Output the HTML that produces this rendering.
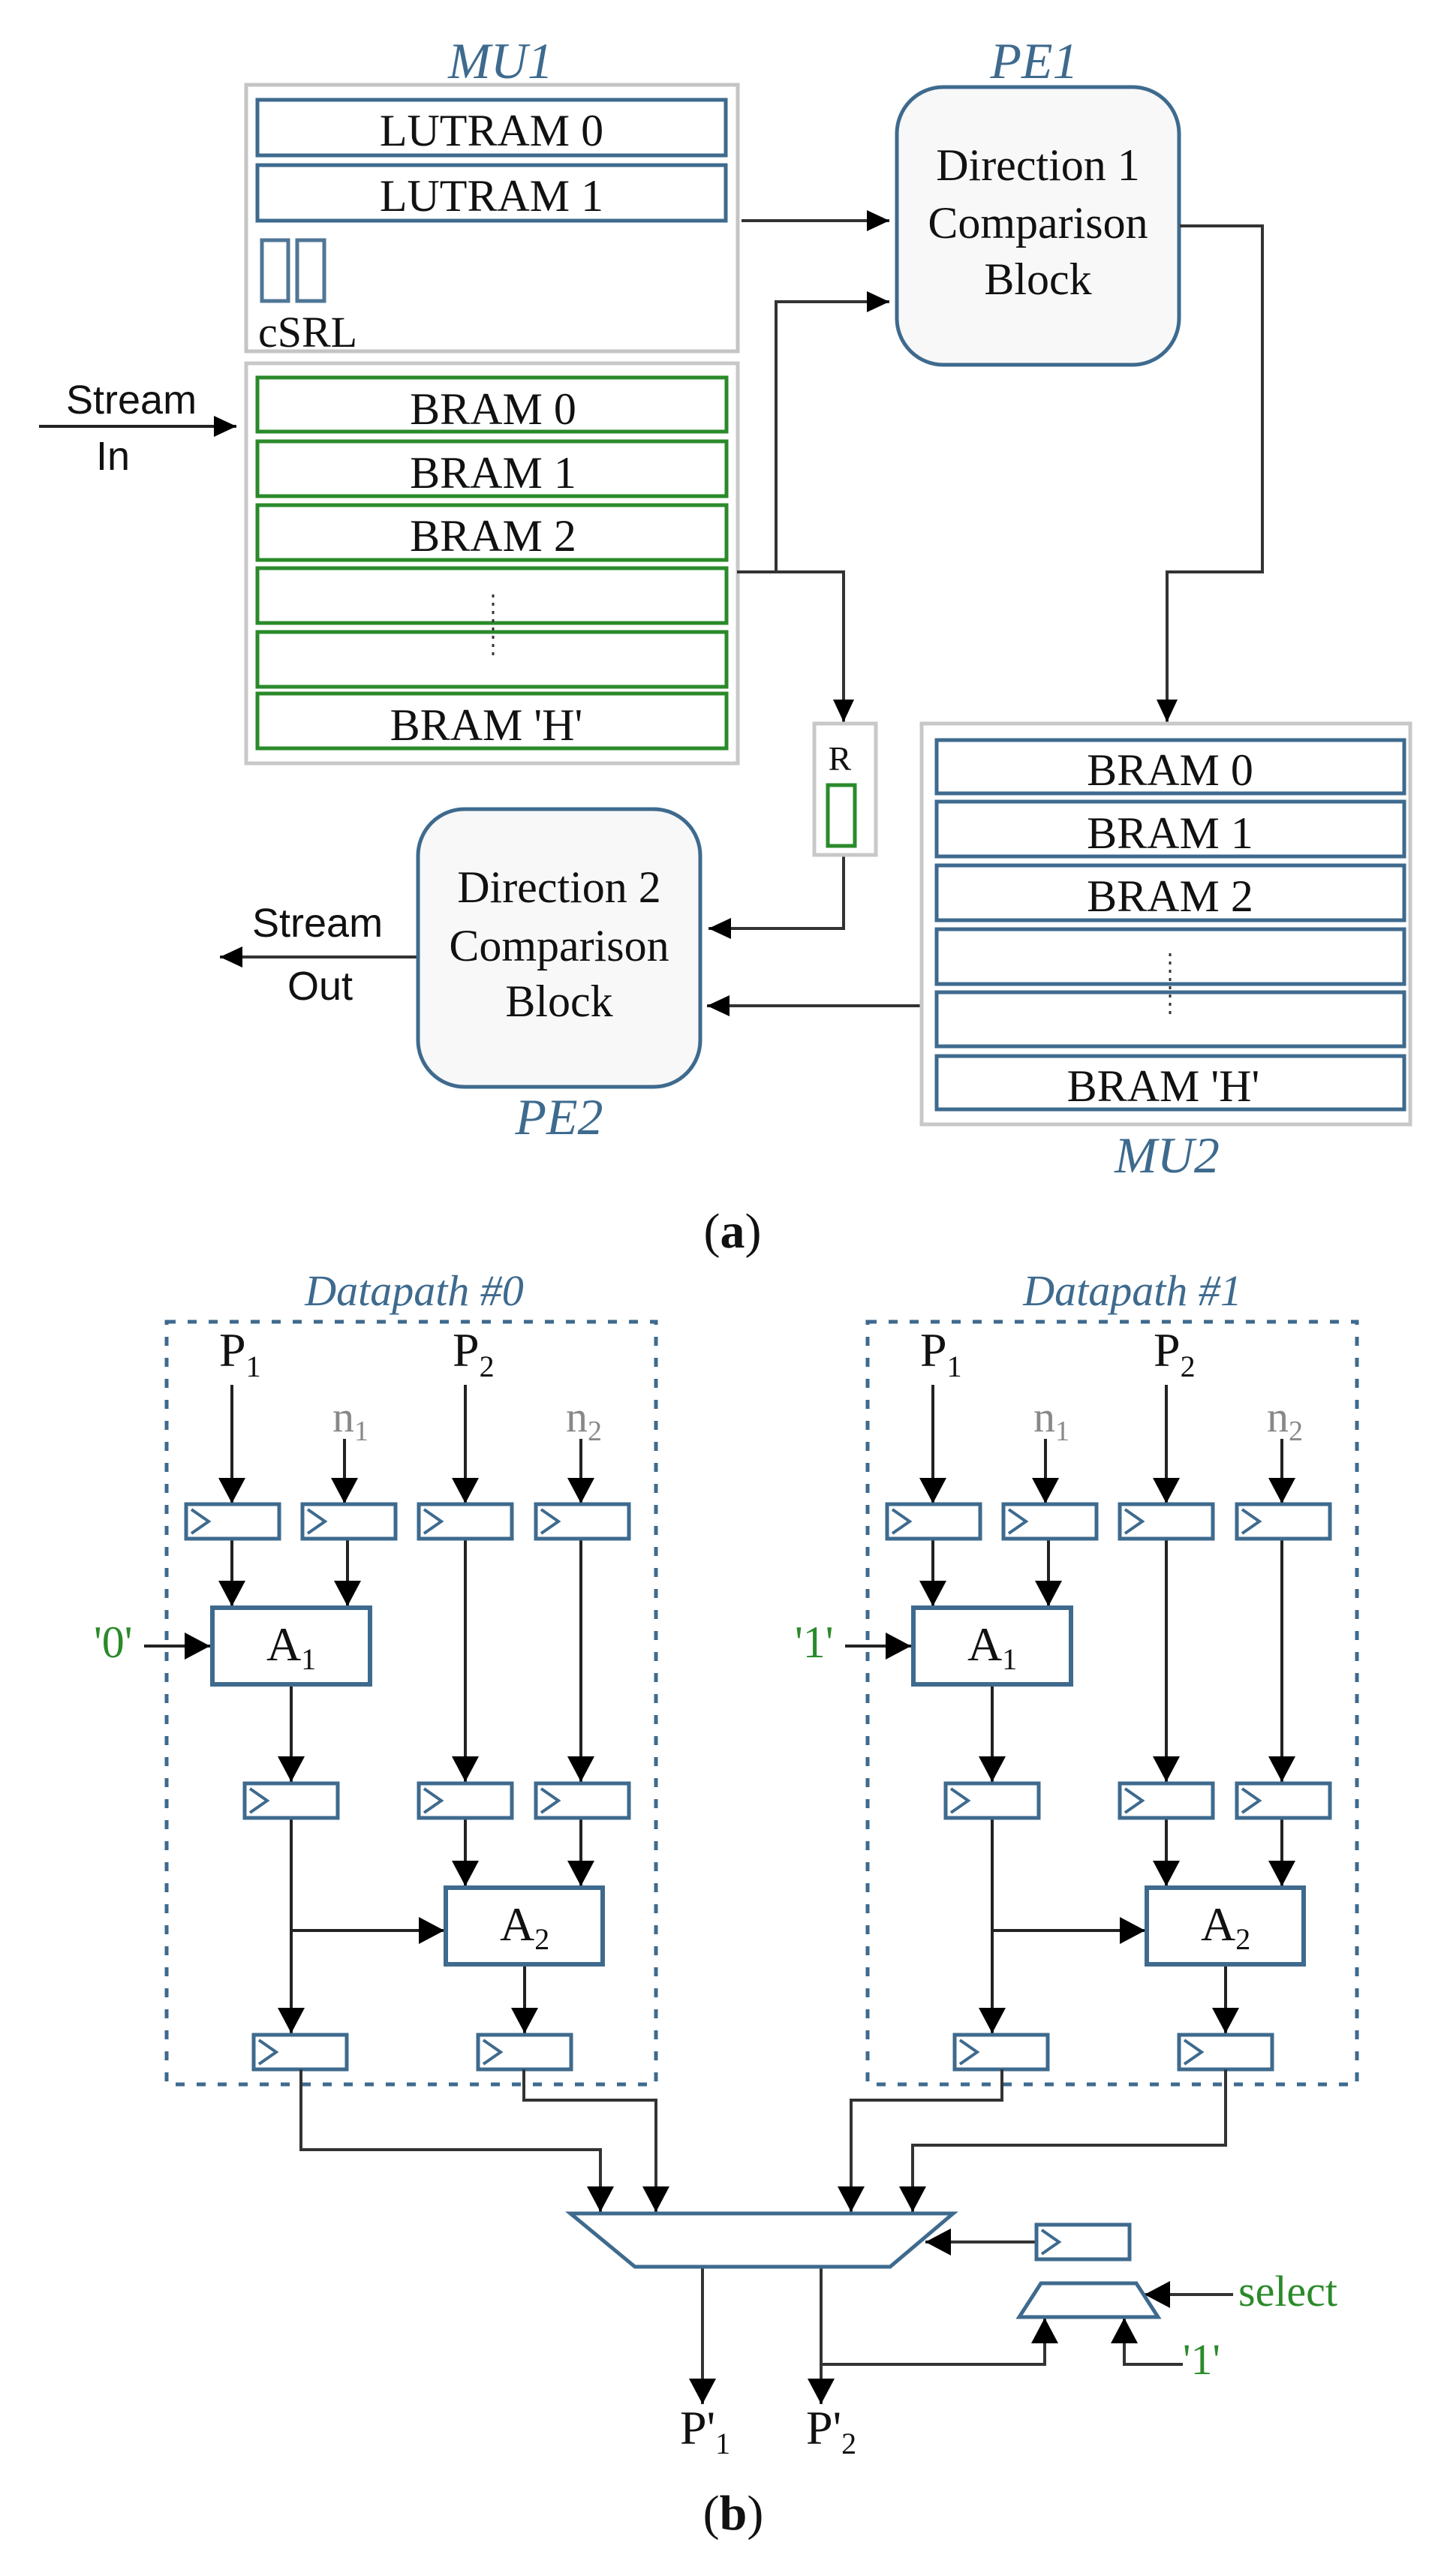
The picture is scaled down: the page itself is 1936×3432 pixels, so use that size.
<!DOCTYPE html>
<html><head><meta charset="utf-8"><style>
html,body{margin:0;padding:0;background:#fff}
svg{display:block}
.s{font-family:"Liberation Serif",serif;fill:#111}
.ss{font-family:"Liberation Sans",sans-serif;fill:#111}
.t{font-family:"Liberation Serif",serif;font-style:italic;fill:#3e6a8e}
.g{font-family:"Liberation Serif",serif;fill:#2a8a2a}
</style></head><body>
<svg width="1936" height="3432" viewBox="0 0 1936 3432" xmlns="http://www.w3.org/2000/svg">
<defs>
<marker id="ah" markerUnits="userSpaceOnUse" markerWidth="34" markerHeight="36" refX="34" refY="18" orient="auto"><path d="M0,0 L34,18 L0,36z" fill="#000"/></marker>
<marker id="as" markerUnits="userSpaceOnUse" markerWidth="30" markerHeight="28" refX="30" refY="14" orient="auto"><path d="M0,0 L30,14 L0,28z" fill="#000"/></marker>
<g id="reg"><rect x="0" y="0" width="124" height="46" fill="#fff" stroke="#3e6a8e" stroke-width="5"/><polyline points="7,7 30,23 7,39" fill="none" stroke="#3e6a8e" stroke-width="4"/></g>
</defs>

<!-- ===== (a) ===== -->
<text class="t" x="667" y="104" font-size="68" text-anchor="middle">MU1</text>
<rect x="328" y="113" width="655" height="355" fill="#fff" stroke="#c4c4c4" stroke-width="5"/>
<rect x="343" y="133" width="624" height="74" fill="#fff" stroke="#3e6a8e" stroke-width="5"/>
<text class="s" x="655" y="194" font-size="60" text-anchor="middle">LUTRAM 0</text>
<rect x="343" y="220" width="624" height="74" fill="#fff" stroke="#3e6a8e" stroke-width="5"/>
<text class="s" x="655" y="281" font-size="60" text-anchor="middle">LUTRAM 1</text>
<rect x="349" y="320" width="35" height="81" fill="#fff" stroke="#4f7696" stroke-width="5"/>
<rect x="396" y="320" width="36" height="81" fill="#fff" stroke="#4f7696" stroke-width="5"/>
<text class="s" x="344" y="462" font-size="58">cSRL</text>

<rect x="328" y="484" width="655" height="533" fill="#fff" stroke="#c8c8c8" stroke-width="5"/>
<g fill="#fff" stroke="#2a8a2a" stroke-width="5">
<rect x="343" y="503" width="625" height="72"/>
<rect x="343" y="588" width="625" height="73"/>
<rect x="343" y="673" width="625" height="73"/>
<rect x="343" y="757" width="625" height="73"/>
<rect x="343" y="842" width="625" height="73"/>
<rect x="343" y="924" width="625" height="73"/>
</g>
<text class="s" x="657" y="565" font-size="60" text-anchor="middle">BRAM 0</text>
<text class="s" x="657" y="650" font-size="60" text-anchor="middle">BRAM 1</text>
<text class="s" x="657" y="734" font-size="60" text-anchor="middle">BRAM 2</text>
<text class="s" x="648" y="986" font-size="60" text-anchor="middle">BRAM 'H'</text>
<line x1="657" y1="792" x2="657" y2="880" stroke="#333" stroke-width="3" stroke-dasharray="4,7"/>

<text class="ss" x="88" y="551" font-size="54">Stream</text>
<text class="ss" x="128" y="626" font-size="54">In</text>
<line x1="52" y1="568" x2="315" y2="568" stroke="#222" stroke-width="4" marker-end="url(#as)"/>

<!-- PE1 -->
<text class="t" x="1378" y="104" font-size="68" text-anchor="middle">PE1</text>
<rect x="1195" y="116" width="376" height="370" rx="62" fill="#f8f8f8" stroke="#3e6a8e" stroke-width="5"/>
<text class="s" x="1383" y="240" font-size="60" text-anchor="middle">Direction 1</text>
<text class="s" x="1383" y="317" font-size="60" text-anchor="middle">Comparison</text>
<text class="s" x="1383" y="392" font-size="60" text-anchor="middle">Block</text>

<g fill="none" stroke="#333" stroke-width="4">
<line x1="988" y1="294" x2="1185" y2="294" marker-end="url(#as)"/>
<polyline points="982,762 1034,762 1034,402 1185,402" marker-end="url(#as)"/>
<polyline points="1034,762 1124,762 1124,962" marker-end="url(#as)"/>
<polyline points="1572,301 1682,301 1682,762 1555,762 1555,962" marker-end="url(#as)"/>
<polyline points="1124,1139 1124,1237 944,1237" marker-end="url(#as)"/>
<line x1="1226" y1="1340" x2="942" y2="1340" marker-end="url(#as)"/>
<line x1="556" y1="1275" x2="293" y2="1275" marker-end="url(#as)"/>
</g>

<!-- R -->
<rect x="1085" y="964" width="82" height="175" fill="#fff" stroke="#c8c8c8" stroke-width="5"/>
<text class="s" x="1119" y="1026" font-size="46" text-anchor="middle">R</text>
<rect x="1103" y="1046" width="36" height="81" fill="#fff" stroke="#2a8a2a" stroke-width="5"/>

<!-- MU2 -->
<rect x="1228" y="964" width="651" height="534" fill="#fff" stroke="#c8c8c8" stroke-width="5"/>
<g fill="#fff" stroke="#3e6a8e" stroke-width="5">
<rect x="1248" y="986" width="623" height="71"/>
<rect x="1248" y="1068" width="623" height="73"/>
<rect x="1248" y="1153" width="623" height="73"/>
<rect x="1248" y="1238" width="623" height="73"/>
<rect x="1248" y="1322" width="623" height="72"/>
<rect x="1248" y="1407" width="623" height="71"/>
</g>
<text class="s" x="1559" y="1046" font-size="60" text-anchor="middle">BRAM 0</text>
<text class="s" x="1559" y="1130" font-size="60" text-anchor="middle">BRAM 1</text>
<text class="s" x="1559" y="1214" font-size="60" text-anchor="middle">BRAM 2</text>
<text class="s" x="1550" y="1467" font-size="60" text-anchor="middle">BRAM 'H'</text>
<line x1="1559" y1="1270" x2="1559" y2="1356" stroke="#333" stroke-width="3" stroke-dasharray="4,7"/>
<text class="t" x="1555" y="1562" font-size="68" text-anchor="middle">MU2</text>

<!-- PE2 -->
<rect x="557" y="1078" width="376" height="370" rx="62" fill="#f8f8f8" stroke="#3e6a8e" stroke-width="5"/>
<text class="s" x="745" y="1202" font-size="60" text-anchor="middle">Direction 2</text>
<text class="s" x="745" y="1280" font-size="60" text-anchor="middle">Comparison</text>
<text class="s" x="745" y="1354" font-size="60" text-anchor="middle">Block</text>
<text class="t" x="745" y="1511" font-size="68" text-anchor="middle">PE2</text>
<text class="ss" x="336" y="1248" font-size="54">Stream</text>
<text class="ss" x="383" y="1332" font-size="54">Out</text>

<text class="s" x="976" y="1662" font-size="66" text-anchor="middle">(<tspan font-weight="bold">a</tspan>)</text>

<!-- ===== (b) ===== -->
<g id="dp">
<rect x="222" y="1761" width="652" height="1016" fill="none" stroke="#3e6a8e" stroke-width="5" stroke-dasharray="12,16"/>
<text class="s" x="292" y="1820" font-size="64">P<tspan font-size="40" dy="14">1</tspan></text>
<text class="s" x="603" y="1820" font-size="64">P<tspan font-size="40" dy="14">2</tspan></text>
<text class="s" x="443" y="1907" font-size="58" fill="#888" style="fill:#888">n<tspan font-size="38" dy="12">1</tspan></text>
<text class="s" x="754" y="1907" font-size="58" style="fill:#888">n<tspan font-size="38" dy="12">2</tspan></text>
<g fill="none" stroke="#222" stroke-width="4">
<line x1="309" y1="1845" x2="309" y2="2003" marker-end="url(#ah)"/>
<line x1="459" y1="1917" x2="459" y2="2003" marker-end="url(#ah)"/>
<line x1="620" y1="1845" x2="620" y2="2003" marker-end="url(#ah)"/>
<line x1="774" y1="1917" x2="774" y2="2003" marker-end="url(#ah)"/>
<line x1="309" y1="2050" x2="309" y2="2140" marker-end="url(#ah)"/>
<line x1="463" y1="2050" x2="463" y2="2140" marker-end="url(#ah)"/>
<line x1="620" y1="2050" x2="620" y2="2374" marker-end="url(#ah)"/>
<line x1="774" y1="2050" x2="774" y2="2374" marker-end="url(#ah)"/>
<line x1="388" y1="2244" x2="388" y2="2374" marker-end="url(#ah)"/>
<line x1="620" y1="2423" x2="620" y2="2513" marker-end="url(#ah)"/>
<line x1="774" y1="2423" x2="774" y2="2513" marker-end="url(#ah)"/>
<line x1="388" y1="2423" x2="388" y2="2709" marker-end="url(#ah)"/>
<line x1="388" y1="2572" x2="592" y2="2572" marker-end="url(#ah)"/>
<line x1="699" y1="2617" x2="699" y2="2709" marker-end="url(#ah)"/>
<line x1="192" y1="2193" x2="280" y2="2193" marker-end="url(#ah)"/>
</g>
<use href="#reg" x="248" y="2004"/>
<use href="#reg" x="403" y="2004"/>
<use href="#reg" x="558" y="2004"/>
<use href="#reg" x="714" y="2004"/>
<use href="#reg" x="326" y="2376"/>
<use href="#reg" x="558" y="2376"/>
<use href="#reg" x="714" y="2376"/>
<use href="#reg" x="338" y="2711"/>
<use href="#reg" x="637" y="2711"/>
<rect x="283" y="2142" width="210" height="102" fill="#fff" stroke="#3e6a8e" stroke-width="6"/>
<text class="s" x="355" y="2212" font-size="64">A<tspan font-size="40" dy="12">1</tspan></text>
<rect x="594" y="2515" width="209" height="102" fill="#fff" stroke="#3e6a8e" stroke-width="6"/>
<text class="s" x="666" y="2585" font-size="64">A<tspan font-size="40" dy="12">2</tspan></text>
</g>
<text class="t" x="552" y="1739" font-size="58" text-anchor="middle">Datapath #0</text>
<text class="g" x="125" y="2208" font-size="60">'0'</text>
<use href="#dp" x="934" y="0"/>
<text class="t" x="1509" y="1739" font-size="58" text-anchor="middle">Datapath #1</text>
<text class="g" x="1059" y="2208" font-size="60">'1'</text>

<!-- mux wiring -->
<g fill="none" stroke="#333" stroke-width="4">
<polyline points="401,2757 401,2864 800,2864 800,2947" marker-end="url(#ah)"/>
<polyline points="698,2757 698,2798 874,2798 874,2947" marker-end="url(#ah)"/>
<polyline points="1335,2757 1335,2798 1134,2798 1134,2947" marker-end="url(#ah)"/>
<polyline points="1633,2757 1633,2858 1216,2858 1216,2947" marker-end="url(#ah)"/>
<line x1="936" y1="3020" x2="936" y2="3203" marker-end="url(#ah)"/>
<line x1="1094" y1="3020" x2="1094" y2="3203" marker-end="url(#ah)"/>
<polyline points="1094,3150 1392,3150 1392,3088" marker-end="url(#ah)"/>
<polyline points="1576,3150 1498,3150 1498,3088" marker-end="url(#ah)"/>
<line x1="1643" y1="3057" x2="1525" y2="3057" marker-end="url(#ah)"/>
<line x1="1381" y1="2987" x2="1233" y2="2987" marker-end="url(#ah)"/>
</g>
<polygon points="760,2949 1270,2949 1186,3020 846,3020" fill="#fff" stroke="#3e6a8e" stroke-width="5"/>
<use href="#reg" x="1381" y="2964"/>
<polygon points="1387,3042 1514,3042 1543,3087 1358,3087" fill="#fff" stroke="#3e6a8e" stroke-width="5"/>
<text class="g" x="1650" y="3072" font-size="58">select</text>
<text class="g" x="1576" y="3163" font-size="58">'1'</text>

<text class="s" x="906" y="3256" font-size="64">P'<tspan font-size="40" dy="13">1</tspan></text>
<text class="s" x="1074" y="3256" font-size="64">P'<tspan font-size="40" dy="13">2</tspan></text>
<text class="s" x="977" y="3370" font-size="66" text-anchor="middle">(<tspan font-weight="bold">b</tspan>)</text>
</svg>
</body></html>
